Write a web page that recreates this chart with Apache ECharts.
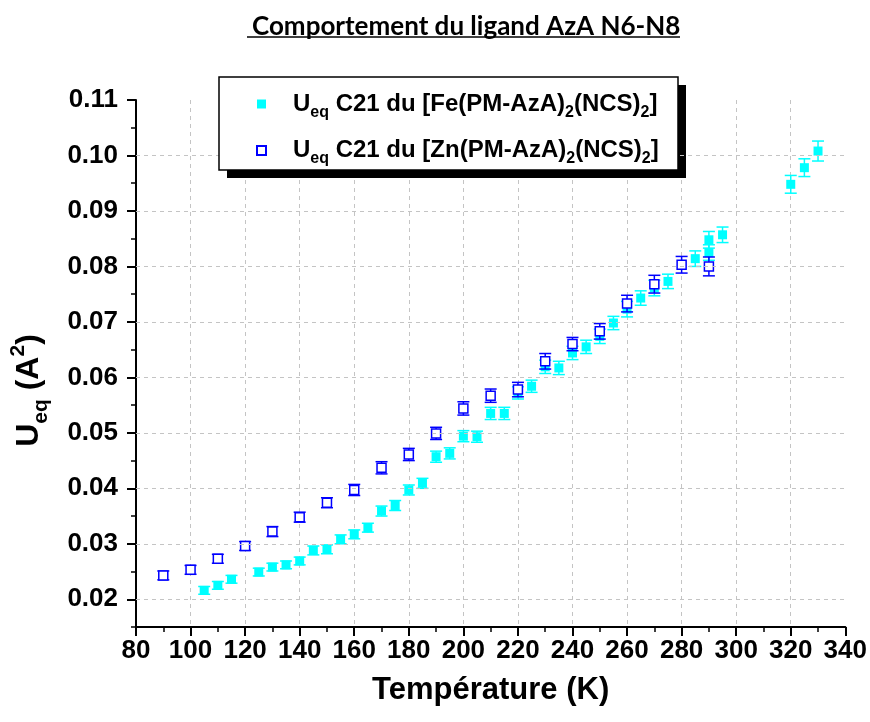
<!DOCTYPE html>
<html>
<head>
<meta charset="utf-8">
<script src="https://cdn.jsdelivr.net/npm/echarts@6/dist/echarts.min.js"></script>
<style>
  html, body { margin: 0; padding: 0; background: #fff; }
  #chart { width: 870px; height: 722px; }
</style>
</head>
<body>
<div id="chart"></div>
<script>
(function(){
  // Fe complex: temperature (K), Ueq, error
  const feT   = [105, 110, 115, 125, 130, 135, 140, 145, 150, 155, 160, 165, 170, 175, 180, 185, 190, 195, 200, 205,
                 210, 215, 220, 225, 230, 235, 240, 245, 250, 255, 260, 265, 270, 275, 285, 290, 290, 295, 320, 325, 330];
  const feU   = [0.0216, 0.0225, 0.0236, 0.0249, 0.0258, 0.0262, 0.0269, 0.0288, 0.0290, 0.0308, 0.0317, 0.0329, 0.0359, 0.0369,
                 0.0397, 0.0409, 0.0457, 0.0463, 0.0494, 0.0493, 0.0535, 0.0535, 0.0572, 0.0584, 0.0619, 0.0617, 0.0644, 0.0655,
                 0.0674, 0.0698, 0.0723, 0.0743, 0.0761, 0.0773, 0.0814, 0.0825, 0.0848, 0.0857, 0.0948, 0.0978, 0.1008];
  const feErr = [0.0007, 0.0007, 0.0007, 0.0007, 0.0007, 0.0007, 0.0007, 0.0008, 0.0008, 0.0008, 0.0008, 0.0008, 0.0009, 0.0009,
                 0.0009, 0.0009, 0.0010, 0.0010, 0.0010, 0.0010, 0.0011, 0.0011, 0.0011, 0.0011, 0.0012, 0.0012, 0.0012, 0.0012,
                 0.0013, 0.0012, 0.0014, 0.0013, 0.0014, 0.0013, 0.0014, 0.0014, 0.0015, 0.0014, 0.0016, 0.0016, 0.0018];

  // Zn complex
  const znT   = [90, 100, 110, 120, 130, 140, 150, 160, 170, 180, 190, 200, 210, 220, 230, 240, 250, 260, 270, 280, 290];
  const znU   = [0.0243, 0.0253, 0.0273, 0.0296, 0.0322, 0.0348, 0.0374, 0.0397, 0.0437, 0.0461, 0.0499, 0.0544, 0.0567,
                 0.0578, 0.0629, 0.0660, 0.0683, 0.0733, 0.0768, 0.0803, 0.0800];
  const znErr = [0.0008, 0.0008, 0.0008, 0.0008, 0.0009, 0.0009, 0.0009, 0.0010, 0.0011, 0.0011, 0.0011, 0.0012, 0.0012,
                 0.0013, 0.0014, 0.0012, 0.0014, 0.0015, 0.0016, 0.0015, 0.0017];

  const yMajor = [0.02, 0.03, 0.04, 0.05, 0.06, 0.07, 0.08, 0.09, 0.10, 0.11];
  const yGrid  = [0.02, 0.03, 0.04, 0.05, 0.06, 0.07, 0.08, 0.09, 0.10];

  const FE = '#00ffff';
  const ZN = '#0000ff';
  const FONT = '"Liberation Sans", Arial, sans-serif';

  const chart = echarts.init(document.getElementById('chart'), null, { renderer: 'canvas' });

  function errorBars(color){
    return function(params, api){
      const x = api.value(0);
      const lo = api.coord([x, api.value(1)]);
      const hi = api.coord([x, api.value(2)]);
      const hw = 6;
      const style = { stroke: color, lineWidth: 1.5, fill: null };
      return {
        type: 'group',
        children: [
          { type: 'line', shape: { x1: lo[0], y1: lo[1], x2: hi[0], y2: hi[1] }, style },
          { type: 'line', shape: { x1: lo[0] - hw, y1: lo[1], x2: lo[0] + hw, y2: lo[1] }, style },
          { type: 'line', shape: { x1: hi[0] - hw, y1: hi[1], x2: hi[0] + hw, y2: hi[1] }, style }
        ]
      };
    };
  }

  const legendText = {
    Fe: '{u0|U}{s|eq}{u| C21 du [Fe(PM-AzA)}{s|2}{u|(NCS)}{s|2}{u|]}',
    Zn: '{u0|U}{s|eq}{u| C21 du [Zn(PM-AzA)}{s|2}{u|(NCS)}{s|2}{u|]}'
  };

  const richLabel = {
    u0: { fontFamily: FONT, fontWeight: 'bold', fontSize: 24, color: '#000', padding: [0, 0, 0, 22] },
    u:  { fontFamily: FONT, fontWeight: 'bold', fontSize: 24, color: '#000' },
    s:  { fontFamily: FONT, fontWeight: 'bold', fontSize: 16, color: '#000', padding: [17, 0, 0, 0] }
  };

  chart.setOption({
    animation: false,
    title: {
      text: 'Comportement du ligand AzA N6-N8',
      left: 247,
      top: 9,
      textStyle: { fontFamily: 'Lato, "Open Sans", sans-serif', fontWeight: 'bold', fontSize: 26, color: '#000' }
    },
    graphic: [
      { type: 'line', shape: { x1: 247, y1: 37, x2: 680, y2: 37 }, style: { stroke: '#000', lineWidth: 1.5 } },
      // legend frame with offset black shadow
      { type: 'rect', z: 5, shape: { x: 227, y: 85, width: 459, height: 93 }, style: { fill: '#000' } },
      { type: 'rect', z: 6, shape: { x: 219, y: 77, width: 459, height: 93 }, style: { fill: '#fff', stroke: '#000', lineWidth: 1.5 } }
    ],
    grid: { left: 136, right: 24, top: 100, bottom: 95 },
    legend: {
      z: 10,
      left: 219,
      top: 77,
      orient: 'vertical',
      padding: [15, 20, 8, 37],
      itemGap: 18,
      itemWidth: 9,
      itemHeight: 9,
      data: ['Fe', 'Zn'],
      formatter: name => legendText[name],
      textStyle: { rich: richLabel }
    },
    xAxis: {
      type: 'value',
      min: 80,
      max: 340,
      interval: 20,
      name: 'Température (K)',
      nameLocation: 'middle',
      nameGap: 48,
      nameTextStyle: { fontFamily: FONT, fontWeight: 'bold', fontSize: 31, color: '#000' },
      axisLine: { show: true, onZero: false, lineStyle: { color: '#000', width: 2 } },
      axisTick: { show: true, length: 9, lineStyle: { color: '#000', width: 2 } },
      minorTick: { show: true, splitNumber: 2, length: 5, lineStyle: { color: '#000', width: 1.5 } },
      axisLabel: { margin: 11, fontFamily: FONT, fontWeight: 'bold', fontSize: 26, color: '#000' },
      splitLine: { show: true, showMinLine: false, showMaxLine: false, lineStyle: { color: '#c4c4c4', type: [4, 4], width: 1 } }
    },
    yAxis: [{
      type: 'value',
      min: 0.015,
      max: 0.11,
      interval: 0.005,
      name: '{u|U}{s|eq}{u| (A}{p|2}{u|)}',
      nameLocation: 'middle',
      nameRotate: 90,
      nameGap: 84,
      nameTextStyle: {
        padding: [0, 54, 0, 0],
        rich: {
          u: { fontFamily: FONT, fontWeight: 'bold', fontSize: 32, color: '#000' },
          s: { fontFamily: FONT, fontWeight: 'bold', fontSize: 21, color: '#000', padding: [24, 0, 0, 0] },
          p: { fontFamily: FONT, fontWeight: 'bold', fontSize: 21, color: '#000', padding: [0, 0, 22, 0] }
        }
      },
      axisLine: { show: true, onZero: false, lineStyle: { color: '#000', width: 2 } },
      axisTick: { show: true, length: 9, customValues: yMajor, lineStyle: { color: '#000', width: 2 } },
      axisLabel: {
        margin: 18, customValues: yMajor,
        formatter: v => v.toFixed(2),
        fontFamily: FONT, fontWeight: 'bold', fontSize: 26, color: '#000'
      },
      splitLine: { show: false }
    }, {
      type: 'value',
      position: 'left',
      min: 0.015,
      max: 0.11,
      interval: 0.005,
      axisLine: { show: false },
      axisTick: { show: true, length: 5, lineStyle: { color: '#000', width: 1.5 } },
      axisLabel: { show: false },
      splitLine: { show: false }
    }],
    series: [
      {
        name: 'grid',
        type: 'scatter',
        data: [],
        z: 0,
        silent: true,
        markLine: {
          silent: true,
          symbol: 'none',
          label: { show: false },
          lineStyle: { color: '#c4c4c4', type: [4, 4], width: 1 },
          data: yGrid.map(v => ({ yAxis: v }))
        }
      },
      {
        name: 'Fe-err',
        type: 'custom',
        z: 1,
        renderItem: errorBars(FE),
        encode: { x: 0, y: [1, 2] },
        data: feT.map((t, i) => [t, feU[i] - feErr[i], feU[i] + feErr[i]])
      },
      {
        name: 'Fe',
        type: 'scatter',
        z: 2,
        symbol: 'rect',
        symbolSize: 9,
        itemStyle: { color: FE, opacity: 1 },
        data: feT.map((t, i) => [t, feU[i]])
      },
      {
        name: 'Zn-err',
        type: 'custom',
        z: 3,
        renderItem: errorBars(ZN),
        encode: { x: 0, y: [1, 2] },
        data: znT.map((t, i) => [t, znU[i] - znErr[i], znU[i] + znErr[i]])
      },
      {
        name: 'Zn',
        type: 'scatter',
        z: 4,
        symbol: 'rect',
        symbolSize: 9,
        itemStyle: { color: '#fff', borderColor: ZN, borderWidth: 1.5, opacity: 1 },
        data: znT.map((t, i) => [t, znU[i]])
      }
    ]
  });
})();
</script>
</body>
</html>
